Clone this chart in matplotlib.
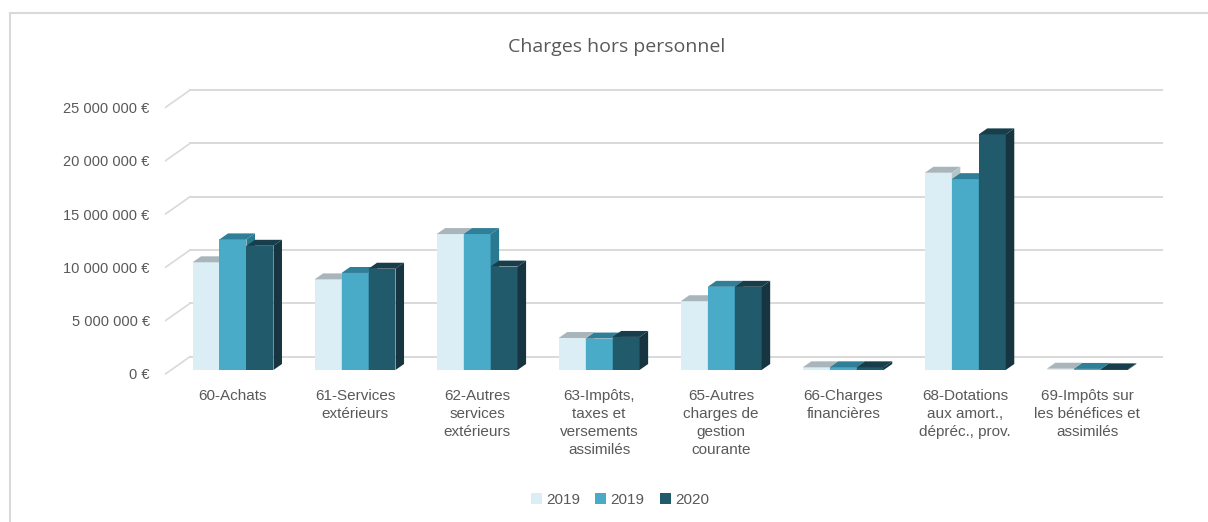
import matplotlib
matplotlib.use("Agg")
import matplotlib.pyplot as plt
from matplotlib.patches import Polygon, Patch
from matplotlib.lines import Line2D
import matplotlib.transforms as mtransforms
import numpy as np

categories = ["60-Achats", "61-Services\nextérieurs", "62-Autres\nservices\nextérieurs",
              "63-Impôts,\ntaxes et\nversements\nassimilés", "65-Autres\ncharges de\ngestion\ncourante",
              "66-Charges\nfinancières", "68-Dotations\naux amort.,\ndépréc., prov.",
              "69-Impôts sur\nles bénéfices et\nassimilés"]
series_names = ["2019", "2019", "2020"]
values_a = [10100000, 8500000, 12750000, 3000000, 6450000, 250000, 18500000, 120000]
values_b = [12250000, 9100000, 12750000, 2950000, 7800000, 250000, 17900000, 100000]
values_c = [11650000, 9500000, 9700000, 3100000, 7800000, 250000, 22100000, 60000]
yticks = [0, 5000000, 10000000, 15000000, 20000000, 25000000]
ytick_labels = ["0 €", "5 000 000 €", "10 000 000 €", "15 000 000 €", "20 000 000 €", "25 000 000 €"]

front = ["#DCEEF5", "#4AABC8", "#215A6A"]
top = ["#A8B6BB", "#2E7F97", "#173E4A"]
side = ["#B5C4C9", "#2B7991", "#163540"]
grey = "#595959"
narrow = ["Liberation Sans", "DejaVu Sans"]

W, H = 1208, 522
fig = plt.figure(figsize=(W / 100, H / 100), dpi=100)
ax = fig.add_axes([165 / W, 1 - 380 / H, 998 / W, 295 / H])

x = np.arange(len(categories))
bw = 0.221          # bar width in category units
dx, dy = 0.07, 560000   # depth of the 3d look
back = 1250000      # back wall offset of gridlines
x_lo, x_hi = -0.557, 7.62
ax.set_xlim(x_lo, x_hi)
ax.set_ylim(-940000, 26730000)

# gridlines on the back wall plus the slanted bits on the side wall
for v in yticks:
    ax.plot([-0.352, x_hi], [v + back, v + back], color="#D9D9D9", lw=1.4, zorder=0)
    ax.plot([x_lo, -0.352], [v - 400000, v + back], color="#D9D9D9", lw=1.2, zorder=0)

for k, vals in enumerate([values_a, values_b, values_c]):
    pos = x + (k - 1) * bw
    ax.bar(pos, vals, bw, color=front[k], zorder=2 + k * 2, linewidth=0)
    for xc, h in zip(pos, vals):
        x0, x1 = xc - bw / 2, xc + bw / 2
        ax.add_patch(Polygon([(x0, h), (x1, h), (x1 + dx, h + dy), (x0 + dx, h + dy)],
                             closed=True, facecolor=top[k], edgecolor="none", zorder=3 + k * 2))
        ax.add_patch(Polygon([(x1, 0), (x1 + dx, dy), (x1 + dx, h + dy), (x1, h)],
                             closed=True, facecolor=side[k], edgecolor="none", zorder=3 + k * 2))

ax.set_yticks(yticks)
ax.set_yticklabels(ytick_labels, color=grey, fontsize=10.5, family=narrow)
ax.tick_params(axis="y", length=0, pad=11)
shift = mtransforms.ScaledTranslation(0, -4 / 100, fig.dpi_scale_trans)
for lab in ax.get_yticklabels():
    lab.set_transform(lab.get_transform() + shift)
ax.set_xticks([])
for s in ax.spines.values():
    s.set_visible(False)

for xc, lab in zip(x, categories):
    ax.text(xc, -1800000, lab, ha="center", va="top", fontsize=11, color=grey,
            family=narrow, linespacing=1.36)

fig.text(617 / W, 1 - 47 / H, "Charges hors personnel", ha="center", va="center",
         fontsize=14, color=grey, family=["Open Sans", "DejaVu Sans"])

handles = [Patch(facecolor=front[k], edgecolor="none") for k in range(3)]
fig.legend(handles, series_names, loc="center", bbox_to_anchor=(620 / W, 1 - 500 / H), ncol=3,
           frameon=False, handlelength=0.7, handleheight=0.7, handletextpad=0.3,
           columnspacing=1.0, prop={"family": narrow, "size": 11}, labelcolor=grey)

# chart frame
fig.add_artist(Line2D([10 / W, 1], [1 - 13 / H, 1 - 13 / H], transform=fig.transFigure,
                      color="#D9D9D9", lw=1.5))
fig.add_artist(Line2D([10 / W, 10 / W], [0, 1 - 13 / H], transform=fig.transFigure,
                      color="#D9D9D9", lw=1.5))

fig.savefig("out.png", dpi=100, facecolor="white")
